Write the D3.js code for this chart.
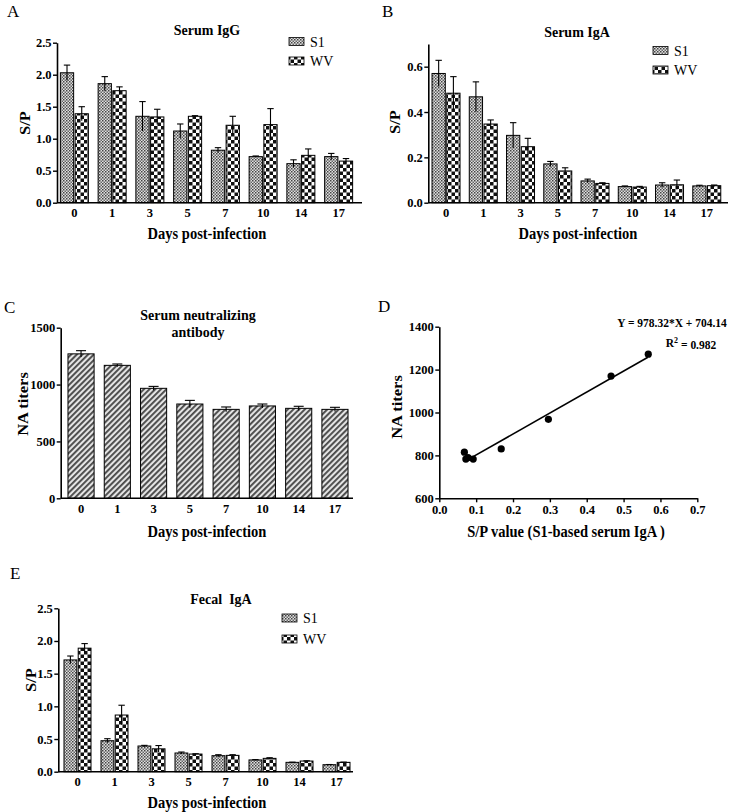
<!DOCTYPE html>
<html>
<head>
<meta charset="utf-8">
<script src="https://cdn.jsdelivr.net/npm/d3@7"></script>
<style>
html,body{margin:0;padding:0;background:#fff;}
svg text{font-family:"Liberation Serif","Times New Roman",serif;}
</style>
</head>
<body>
<svg id="c" width="752" height="812"></svg>
<script>
// ---------- data ----------
const days = ["0","1","3","5","7","10","14","17"];
const seriesNames = ["S1","WV"];

const igG_S1 = [2.03,1.86,1.35,1.12,0.82,0.72,0.61,0.72];
const igG_S1_err = [0.12,0.11,0.23,0.11,0.04,0.01,0.06,0.05];
const igG_WV = [1.39,1.75,1.34,1.35,1.21,1.22,0.74,0.65];
const igG_WV_err = [0.11,0.06,0.12,0.01,0.14,0.25,0.10,0.04];

const igA_S1 = [0.570,0.467,0.297,0.171,0.096,0.071,0.078,0.074];
const igA_S1_err = [0.058,0.066,0.056,0.011,0.008,0.003,0.010,0.003];
const igA_WV = [0.483,0.347,0.247,0.140,0.085,0.069,0.079,0.075];
const igA_WV_err = [0.073,0.018,0.037,0.014,0.003,0.003,0.021,0.003];

const naTiters = [1270,1169,967,829,782,812,791,782];
const naTiters_err = [28,12,17,32,21,17,18,18];

const fecal_S1 = [1.71,0.474,0.393,0.286,0.245,0.180,0.143,0.107];
const fecal_S1_err = [0.06,0.031,0.010,0.015,0.015,0.005,0.003,0.003];
const fecal_WV = [1.89,0.867,0.350,0.270,0.250,0.204,0.163,0.143];
const fecal_WV_err = [0.07,0.150,0.050,0.005,0.010,0.010,0.004,0.004];

const corrX = [0.567,0.466,0.296,0.168,0.092,0.068,0.078,0.072];
const corrY = [1272,1170,968,830,783,815,790,783];
const fitSlope = 978.32, fitIntercept = 704.14;
const fitRange = [0.08, 0.566];

const ticksA = [0,0.5,1.0,1.5,2.0,2.5];
const ticksB = [0,0.2,0.4,0.6];
const ticksC = [0,500,1000,1500];
const ticksDx = [0,0.1,0.2,0.3,0.4,0.5,0.6,0.7];
const ticksDy = [600,800,1000,1200,1400];

// ---------- setup ----------
const svg = d3.select("#c");
const defs = svg.append("defs");
const STRETCH = 1.1;

// S1: fine gray checker
const pS1 = defs.append("pattern").attr("id","pS1").attr("patternUnits","userSpaceOnUse")
  .attr("width",3).attr("height",3);
pS1.append("rect").attr("width",3).attr("height",3).attr("fill","#e0e0e0");
pS1.append("rect").attr("width",1.5).attr("height",1.5).attr("fill","#444");
pS1.append("rect").attr("x",1.5).attr("y",1.5).attr("width",1.5).attr("height",1.5).attr("fill","#666");
// WV: coarse black/white checker
const pWV = defs.append("pattern").attr("id","pWV").attr("patternUnits","userSpaceOnUse")
  .attr("width",7).attr("height",7);
pWV.append("rect").attr("width",7).attr("height",7).attr("fill","#fff");
pWV.append("rect").attr("width",3.5).attr("height",3.5).attr("fill","#111");
pWV.append("rect").attr("x",3.5).attr("y",3.5).attr("width",3.5).attr("height",3.5).attr("fill","#111");
// C: diagonal hatch
const pH = defs.append("pattern").attr("id","pH").attr("patternUnits","userSpaceOnUse")
  .attr("width",4).attr("height",4).attr("patternTransform","rotate(45)");
pH.append("rect").attr("width",4).attr("height",4).attr("fill","#e4e4e4");
pH.append("rect").attr("width",1.9).attr("height",4).attr("fill","#4a4a4a");

const fills = {S1:"url(#pS1)", WV:"url(#pWV)"};

function txt(x,y,s,size,opts={}){
  const rot = opts.rotate ? " rotate(-90)" : "";
  const st = opts.stretch === undefined ? STRETCH : opts.stretch;
  const sc = opts.rotate ? `scale(${st},1)` : `scale(1,${st})`;
  return svg.append("text").attr("transform",`translate(${x},${y})${rot} ${sc}`).attr("dy","0.35em")
    .attr("text-anchor",opts.anchor||"middle")
    .attr("font-size",size).attr("font-weight",opts.weight||"bold")
    .attr("fill","#000").text(s);
}

function styleTicks(a){
  a.selectAll(".tick text").attr("font-size",12.5).attr("font-weight","bold")
    .attr("font-family","Liberation Serif, serif").attr("fill","#000");
}

function yAxis(g, y, ax, ticks, fmt){
  const a = g.append("g").attr("transform",`translate(${ax},0)`)
    .call(d3.axisLeft(y).tickValues(ticks).tickFormat(fmt).tickSize(4).tickSizeOuter(0).tickPadding(1.5));
  a.select(".domain").attr("stroke","#000").attr("stroke-width",1.6);
  a.selectAll(".tick line").attr("stroke","#000").attr("stroke-width",1.4);
  styleTicks(a);
  return a;
}

function xBandAxis(g, x, y0, ax, xr){
  g.append("line").attr("x1",ax).attr("x2",xr).attr("y1",y0).attr("y2",y0)
    .attr("stroke","#000").attr("stroke-width",1.6);
  const a = g.append("g").attr("transform",`translate(0,${y0})`)
    .call(d3.axisBottom(x).tickSize(0).tickPadding(5.5));
  a.select(".domain").remove();
  styleTicks(a);
}

function errBar(g, cx, yv, ye, y, cap){
  g.append("line").attr("x1",cx).attr("x2",cx).attr("y1",y(yv-ye)).attr("y2",y(yv+ye))
    .attr("stroke","#000").attr("stroke-width",1.1);
  g.append("line").attr("x1",cx-cap).attr("x2",cx+cap).attr("y1",y(yv+ye)).attr("y2",y(yv+ye))
    .attr("stroke","#000").attr("stroke-width",1.1);
}

function groupedPanel(cfg){
  const g = svg.append("g");
  const y = d3.scaleLinear().domain(cfg.domain).range([cfg.y0, cfg.yTop]);
  const x = d3.scaleBand().domain(days).range(cfg.band).paddingInner(0).paddingOuter(0);
  const inner = d3.scaleBand().domain(seriesNames).range([0, cfg.groupW]).paddingInner(0.1);
  const sets = [[cfg.s1, cfg.s1e], [cfg.wv, cfg.wve]];
  seriesNames.forEach((s, si) => {
    const vals = sets[si][0], errs = sets[si][1];
    days.forEach((d, i) => {
      const bx = x(d) + x.bandwidth()/2 - cfg.groupW/2 + inner(s);
      g.append("rect").attr("x",bx).attr("y",y(vals[i]))
        .attr("width",inner.bandwidth()).attr("height",cfg.y0 - y(vals[i]))
        .attr("fill",fills[s]).attr("stroke","#000").attr("stroke-width",1);
      errBar(g, bx + inner.bandwidth()/2, vals[i], errs[i], y, 3.2);
    });
  });
  yAxis(g, y, cfg.ax, cfg.ticks, d3.format(".1f"));
  xBandAxis(g, x, cfg.y0, cfg.ax, cfg.xr);
  // legend
  seriesNames.forEach((s, si) => {
    const ly = cfg.legY[si];
    g.append("rect").attr("x",cfg.legX).attr("y",ly-4).attr("width",15).attr("height",8)
      .attr("fill",fills[s]).attr("stroke","#000").attr("stroke-width",0.8);
    txt(cfg.legX+21, ly, s, 14, {anchor:"start", weight:"normal"});
  });
  txt(cfg.titleX, cfg.titleY, cfg.title, 14);
  txt(cfg.xlabX, cfg.xlabY, "Days post-infection", 14.5);
  txt(cfg.ylabX, cfg.ylabY, "S/P", 15, {rotate:true});
}

// ---------- Panel A ----------
groupedPanel({
  domain:[0,2.5], y0:202.7, yTop:42.7, band:[55.5,357.5], groupW:28, ax:57, xr:362,
  ticks:ticksA, s1:igG_S1, s1e:igG_S1_err, wv:igG_WV, wve:igG_WV_err,
  legX:289, legY:[41.5,61], title:"Serum IgG", titleX:207, titleY:30,
  xlabX:207, xlabY:233, ylabX:25, ylabY:123
});
txt(7, 11, "A", 17, {anchor:"start", weight:"normal", stretch:1});

// ---------- Panel B ----------
groupedPanel({
  domain:[0,0.7], y0:202.7, yTop:44, band:[427.4,725.4], groupW:28, ax:428.3, xr:728,
  ticks:ticksB, s1:igA_S1, s1e:igA_S1_err, wv:igA_WV, wve:igA_WV_err,
  legX:653, legY:[50.5,70], title:"Serum IgA", titleX:577, titleY:32,
  xlabX:578, xlabY:233, ylabX:395, ylabY:122
});
txt(382, 11, "B", 17, {anchor:"start", weight:"normal", stretch:1});

// ---------- Panel C ----------
(function(){
  const g = svg.append("g");
  const y0 = 498.3, ax = 60.7;
  const y = d3.scaleLinear().domain([0,1500]).range([y0, 327.7]);
  const x = d3.scaleBand().domain(days).range([62.9,353.1]).paddingInner(0.28).paddingOuter(0.14);
  days.forEach((d,i) => {
    g.append("rect").attr("x",x(d)).attr("y",y(naTiters[i])).attr("width",x.bandwidth())
      .attr("height",y0 - y(naTiters[i])).attr("fill","url(#pH)").attr("stroke","#000").attr("stroke-width",1);
    errBar(g, x(d)+x.bandwidth()/2, naTiters[i], naTiters_err[i], y, 5);
  });
  yAxis(g, y, ax, ticksC, d3.format("d"));
  xBandAxis(g, x, y0, ax, 353);
  txt(198, 315, "Serum neutralizing", 14);
  txt(198, 331.5, "antibody", 14);
  txt(207, 531, "Days post-infection", 14.5);
  txt(23, 404, "NA titers", 15, {rotate:true});
  txt(4, 307, "C", 17, {anchor:"start", weight:"normal", stretch:1});
})();

// ---------- Panel D ----------
(function(){
  const g = svg.append("g");
  const x = d3.scaleLinear().domain([0,0.7]).range([439.3,697.3]);
  const y = d3.scaleLinear().domain([600,1400]).range([498.3,326.7]);
  const ya = g.append("g").attr("transform","translate(439.3,0)")
    .call(d3.axisLeft(y).tickValues(ticksDy).tickFormat(d3.format("d")).tickSize(4).tickSizeOuter(0).tickPadding(1.5));
  const xa = g.append("g").attr("transform","translate(0,498.3)")
    .call(d3.axisBottom(x).tickValues(ticksDx).tickFormat(d3.format(".1f")).tickSize(4).tickSizeOuter(0).tickPadding(3));
  [ya,xa].forEach(a => {
    a.select(".domain").attr("stroke","#000").attr("stroke-width",1.6);
    a.selectAll(".tick line").attr("stroke","#000").attr("stroke-width",1.4);
    styleTicks(a);
  });
  g.append("line").attr("x1",x(fitRange[0])).attr("x2",x(fitRange[1]))
    .attr("y1",y(fitSlope*fitRange[0]+fitIntercept)).attr("y2",y(fitSlope*fitRange[1]+fitIntercept))
    .attr("stroke","#000").attr("stroke-width",1.6);
  corrX.forEach((v,i) => {
    g.append("circle").attr("cx",x(v)).attr("cy",y(corrY[i])).attr("r",3.6).attr("fill","#000");
  });
  txt(672, 323, "Y = 978.32*X + 704.14", 11.5);
  const r = svg.append("text").attr("transform",`translate(691,343) scale(1,${STRETCH})`).attr("dy","0.35em")
    .attr("text-anchor","middle").attr("font-size",11.5).attr("font-weight","bold");
  r.append("tspan").text("R");
  r.append("tspan").attr("dy","-0.45em").attr("font-size",8).text("2");
  r.append("tspan").attr("dy","0.45em").text(" = 0.982");
  txt(566, 531, "S/P value (S1-based serum IgA )", 14.5);
  txt(397, 407, "NA titers", 15, {rotate:true});
  txt(378, 306, "D", 17, {anchor:"start", weight:"normal", stretch:1});
})();

// ---------- Panel E ----------
groupedPanel({
  domain:[0,2.5], y0:771.7, yTop:608.3, band:[59,355], groupW:27, ax:58.3, xr:353,
  ticks:ticksA, s1:fecal_S1, s1e:fecal_S1_err, wv:fecal_WV, wve:fecal_WV_err,
  legX:282, legY:[618,639], title:"Fecal\u00a0 IgA", titleX:221, titleY:599,
  xlabX:207, xlabY:802, ylabX:31, ylabY:680
});
txt(10, 573, "E", 17, {anchor:"start", weight:"normal", stretch:1});
</script>
</body>
</html>
